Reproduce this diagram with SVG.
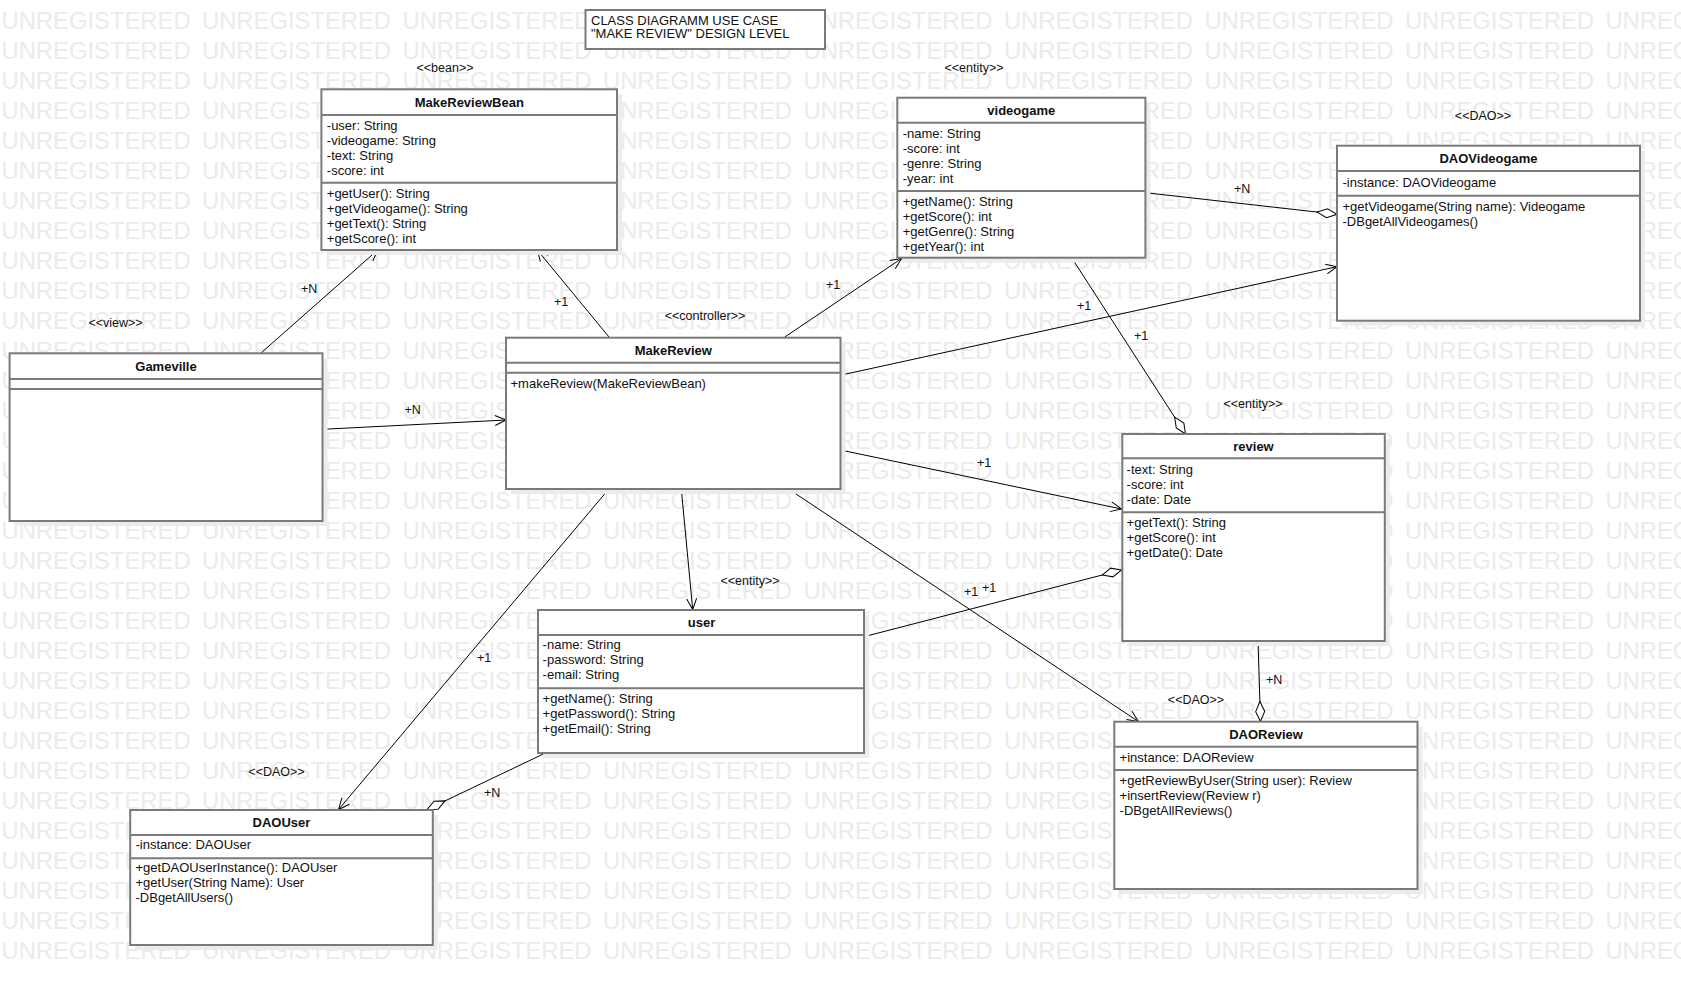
<svg xmlns="http://www.w3.org/2000/svg" width="1681" height="985" viewBox="0 0 1681 985">
<style>
.wm{font-family:"Liberation Sans",Arial,sans-serif;font-size:23.8px;word-spacing:4.8px;fill:#ebebeb}
.box{fill:#fff;stroke:#7a7a7a;stroke-width:2}
.sh{fill:#ececec}
.sep{stroke:#7a7a7a;stroke-width:2}
.t{font-family:"Liberation Sans",Arial,sans-serif;font-size:13px;fill:#111}
.b{font-family:"Liberation Sans",Arial,sans-serif;font-size:13px;font-weight:bold;fill:#111;text-anchor:middle}
.st{font-family:"Liberation Sans",Arial,sans-serif;font-size:12.5px;fill:#111;text-anchor:middle}
.lb{font-family:"Liberation Sans",Arial,sans-serif;font-size:12.5px;fill:#111}
.ln{fill:none;stroke:#000;stroke-width:1}
.ar{marker-end:url(#arr)}
.ag{marker-end:url(#dia)}
</style>
<defs>
<marker id="arr" markerWidth="14" markerHeight="12" refX="12" refY="6" orient="auto" markerUnits="userSpaceOnUse"><path d="M1,1 L12,6 L1,11" fill="none" stroke="#000" stroke-width="1"/></marker>
<marker id="dia" markerWidth="23" markerHeight="12" refX="21" refY="6" orient="auto" markerUnits="userSpaceOnUse"><path d="M1,6 L11,1.5 L21,6 L11,10.5 Z" fill="#fff" stroke="#000" stroke-width="1"/></marker>
</defs>
<rect width="1681" height="985" fill="#fff"/>
<g id="watermark" class="wm">
<text x="1.5" y="28.5">UNREGISTERED UNREGISTERED UNREGISTERED UNREGISTERED UNREGISTERED UNREGISTERED UNREGISTERED UNREGISTERED UNREGISTERED</text>
<text x="1.5" y="58.5">UNREGISTERED UNREGISTERED UNREGISTERED UNREGISTERED UNREGISTERED UNREGISTERED UNREGISTERED UNREGISTERED UNREGISTERED</text>
<text x="1.5" y="88.5">UNREGISTERED UNREGISTERED UNREGISTERED UNREGISTERED UNREGISTERED UNREGISTERED UNREGISTERED UNREGISTERED UNREGISTERED</text>
<text x="1.5" y="118.5">UNREGISTERED UNREGISTERED UNREGISTERED UNREGISTERED UNREGISTERED UNREGISTERED UNREGISTERED UNREGISTERED UNREGISTERED</text>
<text x="1.5" y="148.5">UNREGISTERED UNREGISTERED UNREGISTERED UNREGISTERED UNREGISTERED UNREGISTERED UNREGISTERED UNREGISTERED UNREGISTERED</text>
<text x="1.5" y="178.5">UNREGISTERED UNREGISTERED UNREGISTERED UNREGISTERED UNREGISTERED UNREGISTERED UNREGISTERED UNREGISTERED UNREGISTERED</text>
<text x="1.5" y="208.5">UNREGISTERED UNREGISTERED UNREGISTERED UNREGISTERED UNREGISTERED UNREGISTERED UNREGISTERED UNREGISTERED UNREGISTERED</text>
<text x="1.5" y="238.5">UNREGISTERED UNREGISTERED UNREGISTERED UNREGISTERED UNREGISTERED UNREGISTERED UNREGISTERED UNREGISTERED UNREGISTERED</text>
<text x="1.5" y="268.5">UNREGISTERED UNREGISTERED UNREGISTERED UNREGISTERED UNREGISTERED UNREGISTERED UNREGISTERED UNREGISTERED UNREGISTERED</text>
<text x="1.5" y="298.5">UNREGISTERED UNREGISTERED UNREGISTERED UNREGISTERED UNREGISTERED UNREGISTERED UNREGISTERED UNREGISTERED UNREGISTERED</text>
<text x="1.5" y="328.5">UNREGISTERED UNREGISTERED UNREGISTERED UNREGISTERED UNREGISTERED UNREGISTERED UNREGISTERED UNREGISTERED UNREGISTERED</text>
<text x="1.5" y="358.5">UNREGISTERED UNREGISTERED UNREGISTERED UNREGISTERED UNREGISTERED UNREGISTERED UNREGISTERED UNREGISTERED UNREGISTERED</text>
<text x="1.5" y="388.5">UNREGISTERED UNREGISTERED UNREGISTERED UNREGISTERED UNREGISTERED UNREGISTERED UNREGISTERED UNREGISTERED UNREGISTERED</text>
<text x="1.5" y="418.5">UNREGISTERED UNREGISTERED UNREGISTERED UNREGISTERED UNREGISTERED UNREGISTERED UNREGISTERED UNREGISTERED UNREGISTERED</text>
<text x="1.5" y="448.5">UNREGISTERED UNREGISTERED UNREGISTERED UNREGISTERED UNREGISTERED UNREGISTERED UNREGISTERED UNREGISTERED UNREGISTERED</text>
<text x="1.5" y="478.5">UNREGISTERED UNREGISTERED UNREGISTERED UNREGISTERED UNREGISTERED UNREGISTERED UNREGISTERED UNREGISTERED UNREGISTERED</text>
<text x="1.5" y="508.5">UNREGISTERED UNREGISTERED UNREGISTERED UNREGISTERED UNREGISTERED UNREGISTERED UNREGISTERED UNREGISTERED UNREGISTERED</text>
<text x="1.5" y="538.5">UNREGISTERED UNREGISTERED UNREGISTERED UNREGISTERED UNREGISTERED UNREGISTERED UNREGISTERED UNREGISTERED UNREGISTERED</text>
<text x="1.5" y="568.5">UNREGISTERED UNREGISTERED UNREGISTERED UNREGISTERED UNREGISTERED UNREGISTERED UNREGISTERED UNREGISTERED UNREGISTERED</text>
<text x="1.5" y="598.5">UNREGISTERED UNREGISTERED UNREGISTERED UNREGISTERED UNREGISTERED UNREGISTERED UNREGISTERED UNREGISTERED UNREGISTERED</text>
<text x="1.5" y="628.5">UNREGISTERED UNREGISTERED UNREGISTERED UNREGISTERED UNREGISTERED UNREGISTERED UNREGISTERED UNREGISTERED UNREGISTERED</text>
<text x="1.5" y="658.5">UNREGISTERED UNREGISTERED UNREGISTERED UNREGISTERED UNREGISTERED UNREGISTERED UNREGISTERED UNREGISTERED UNREGISTERED</text>
<text x="1.5" y="688.5">UNREGISTERED UNREGISTERED UNREGISTERED UNREGISTERED UNREGISTERED UNREGISTERED UNREGISTERED UNREGISTERED UNREGISTERED</text>
<text x="1.5" y="718.5">UNREGISTERED UNREGISTERED UNREGISTERED UNREGISTERED UNREGISTERED UNREGISTERED UNREGISTERED UNREGISTERED UNREGISTERED</text>
<text x="1.5" y="748.5">UNREGISTERED UNREGISTERED UNREGISTERED UNREGISTERED UNREGISTERED UNREGISTERED UNREGISTERED UNREGISTERED UNREGISTERED</text>
<text x="1.5" y="778.5">UNREGISTERED UNREGISTERED UNREGISTERED UNREGISTERED UNREGISTERED UNREGISTERED UNREGISTERED UNREGISTERED UNREGISTERED</text>
<text x="1.5" y="808.5">UNREGISTERED UNREGISTERED UNREGISTERED UNREGISTERED UNREGISTERED UNREGISTERED UNREGISTERED UNREGISTERED UNREGISTERED</text>
<text x="1.5" y="838.5">UNREGISTERED UNREGISTERED UNREGISTERED UNREGISTERED UNREGISTERED UNREGISTERED UNREGISTERED UNREGISTERED UNREGISTERED</text>
<text x="1.5" y="868.5">UNREGISTERED UNREGISTERED UNREGISTERED UNREGISTERED UNREGISTERED UNREGISTERED UNREGISTERED UNREGISTERED UNREGISTERED</text>
<text x="1.5" y="898.5">UNREGISTERED UNREGISTERED UNREGISTERED UNREGISTERED UNREGISTERED UNREGISTERED UNREGISTERED UNREGISTERED UNREGISTERED</text>
<text x="1.5" y="928.5">UNREGISTERED UNREGISTERED UNREGISTERED UNREGISTERED UNREGISTERED UNREGISTERED UNREGISTERED UNREGISTERED UNREGISTERED</text>
<text x="1.5" y="958.5">UNREGISTERED UNREGISTERED UNREGISTERED UNREGISTERED UNREGISTERED UNREGISTERED UNREGISTERED UNREGISTERED UNREGISTERED</text>
</g>

<g id="connectors">
<path class="ln ar" d="M261,353 L377.7,250"/>
<path class="ln ar" d="M609,337 L537.3,250"/>
<path class="ln ar" d="M322.5,429.3 L506,420"/>
<path class="ln ar" d="M784.8,337 L901.6,258.5"/>
<path class="ln ar" d="M840.5,375.2 L1337,266.7"/>
<path class="ln ag" d="M1145.4,192.7 L1337,214.3"/>
<path class="ln ag" d="M1072,258.3 L1185.5,434"/>
<path class="ln ar" d="M840.5,450 L1121.5,509"/>
<path class="ln ag" d="M864,636.7 L1121.5,570"/>
<path class="ln ar" d="M790,490 L1138.4,721.5"/>
<path class="ln ag" d="M1258,641 L1260.5,721.5"/>
<path class="ln ar" d="M681.4,490 L692.7,609.5"/>
<path class="ln ar" d="M608,490 L338.6,809.5"/>
<path class="ln ag" d="M544.8,753.3 L427,809.5"/>
<text class="lb" x="301" y="293">+N</text>
<text class="lb" x="554" y="306">+1</text>
<text class="lb" x="404.5" y="414">+N</text>
<text class="lb" x="826" y="289">+1</text>
<text class="lb" x="1077" y="310">+1</text>
<text class="lb" x="1234" y="193">+N</text>
<text class="lb" x="1134" y="340">+1</text>
<text class="lb" x="977" y="467">+1</text>
<text class="lb" x="964" y="596">+1</text>
<text class="lb" x="982" y="592">+1</text>
<text class="lb" x="1266" y="684">+N</text>
<text class="lb" x="477" y="662">+1</text>
<text class="lb" x="484" y="797">+N</text>
</g>

<g id="title">
<rect class="box" x="585.5" y="10" width="239.5" height="39"/>
<text class="t" x="591" y="25">CLASS DIAGRAMM USE CASE</text>
<text class="t" x="591" y="37.7">"MAKE REVIEW" DESIGN LEVEL</text>
</g>

<g id="MakeReviewBean">
<text class="st" x="445" y="72">&lt;&lt;bean&gt;&gt;</text>
<rect class="sh" x="326.4" y="94.3" width="295.6" height="160.7"/>
<rect class="box" x="321.4" y="89.3" width="295.6" height="160.7"/>
<line class="sep" x1="321.4" y1="115" x2="617" y2="115"/>
<line class="sep" x1="321.4" y1="182.7" x2="617" y2="182.7"/>
<text class="b" x="469.3" y="106.5">MakeReviewBean</text>
<text class="t" x="326.8" y="130">-user: String</text>
<text class="t" x="326.8" y="145">-videogame: String</text>
<text class="t" x="326.8" y="160">-text: String</text>
<text class="t" x="326.8" y="175">-score: int</text>
<text class="t" x="326.8" y="198.3">+getUser(): String</text>
<text class="t" x="326.8" y="213.3">+getVideogame(): String</text>
<text class="t" x="326.8" y="228.3">+getText(): String</text>
<text class="t" x="326.8" y="243.3">+getScore(): int</text>
</g>

<g id="Gameville">
<text class="st" x="115.5" y="327">&lt;&lt;view&gt;&gt;</text>
<rect class="sh" x="14.6" y="358.3" width="312.9" height="167.7"/>
<rect class="box" x="9.6" y="353.3" width="312.9" height="167.7"/>
<line class="sep" x1="9.6" y1="379" x2="322.5" y2="379"/>
<line class="sep" x1="9.6" y1="389" x2="322.5" y2="389"/>
<text class="b" x="166" y="370.5">Gameville</text>
</g>

<g id="MakeReview">
<text class="st" x="705" y="320">&lt;&lt;controller&gt;&gt;</text>
<rect class="sh" x="511" y="342.7" width="334.5" height="151.3"/>
<rect class="box" x="506" y="337.7" width="334.5" height="151.3"/>
<line class="sep" x1="506" y1="362.7" x2="840.5" y2="362.7"/>
<line class="sep" x1="506" y1="372.7" x2="840.5" y2="372.7"/>
<text class="b" x="673.3" y="355">MakeReview</text>
<text class="t" x="510.5" y="387.7">+makeReview(MakeReviewBean)</text>
</g>

<g id="videogame">
<text class="st" x="974" y="72">&lt;&lt;entity&gt;&gt;</text>
<rect class="sh" x="902.3" y="102.7" width="248.1" height="160"/>
<rect class="box" x="897.3" y="97.7" width="248.1" height="160"/>
<line class="sep" x1="897.3" y1="122.7" x2="1145.4" y2="122.7"/>
<line class="sep" x1="897.3" y1="191" x2="1145.4" y2="191"/>
<text class="b" x="1021.3" y="114.5">videogame</text>
<text class="t" x="902.7" y="137.7">-name: String</text>
<text class="t" x="902.7" y="152.7">-score: int</text>
<text class="t" x="902.7" y="167.7">-genre: String</text>
<text class="t" x="902.7" y="182.7">-year: int</text>
<text class="t" x="902.7" y="205.7">+getName(): String</text>
<text class="t" x="902.7" y="220.7">+getScore(): int</text>
<text class="t" x="902.7" y="235.7">+getGenre(): String</text>
<text class="t" x="902.7" y="250.7">+getYear(): int</text>
</g>

<g id="DAOVideogame">
<text class="st" x="1483" y="120">&lt;&lt;DAO&gt;&gt;</text>
<rect class="sh" x="1342" y="150.7" width="303" height="175"/>
<rect class="box" x="1337" y="145.7" width="303" height="175"/>
<line class="sep" x1="1337" y1="171" x2="1640" y2="171"/>
<line class="sep" x1="1337" y1="195.7" x2="1640" y2="195.7"/>
<text class="b" x="1488.5" y="162.7">DAOVideogame</text>
<text class="t" x="1342.5" y="187.3">-instance: DAOVideogame</text>
<text class="t" x="1342.5" y="210.7">+getVideogame(String name): Videogame</text>
<text class="t" x="1342.5" y="225.7">-DBgetAllVideogames()</text>
</g>

<g id="review">
<text class="st" x="1253" y="408">&lt;&lt;entity&gt;&gt;</text>
<rect class="sh" x="1127.3" y="439" width="262.5" height="207"/>
<rect class="box" x="1122.3" y="434" width="262.5" height="207"/>
<line class="sep" x1="1122.3" y1="458.3" x2="1384.8" y2="458.3"/>
<line class="sep" x1="1122.3" y1="512.3" x2="1384.8" y2="512.3"/>
<text class="b" x="1253.5" y="450.7">review</text>
<text class="t" x="1126.6" y="474">-text: String</text>
<text class="t" x="1126.6" y="489">-score: int</text>
<text class="t" x="1126.6" y="504">-date: Date</text>
<text class="t" x="1126.6" y="526.7">+getText(): String</text>
<text class="t" x="1126.6" y="541.7">+getScore(): int</text>
<text class="t" x="1126.6" y="556.7">+getDate(): Date</text>
</g>

<g id="user">
<text class="st" x="750" y="585">&lt;&lt;entity&gt;&gt;</text>
<rect class="sh" x="543" y="615" width="326" height="143"/>
<rect class="box" x="538" y="610" width="326" height="143"/>
<line class="sep" x1="538" y1="635" x2="864" y2="635"/>
<line class="sep" x1="538" y1="688.3" x2="864" y2="688.3"/>
<text class="b" x="701.5" y="626.7">user</text>
<text class="t" x="542.6" y="649.3">-name: String</text>
<text class="t" x="542.6" y="664.3">-password: String</text>
<text class="t" x="542.6" y="679.3">-email: String</text>
<text class="t" x="542.6" y="702.7">+getName(): String</text>
<text class="t" x="542.6" y="717.7">+getPassword(): String</text>
<text class="t" x="542.6" y="732.7">+getEmail(): String</text>
</g>

<g id="DAOUser">
<text class="st" x="276.5" y="776">&lt;&lt;DAO&gt;&gt;</text>
<rect class="sh" x="135.2" y="815" width="302.6" height="135"/>
<rect class="box" x="130.2" y="810" width="302.6" height="135"/>
<line class="sep" x1="130.2" y1="835" x2="432.8" y2="835"/>
<line class="sep" x1="130.2" y1="858.3" x2="432.8" y2="858.3"/>
<text class="b" x="281.5" y="826.7">DAOUser</text>
<text class="t" x="135.5" y="849.3">-instance: DAOUser</text>
<text class="t" x="135.5" y="872.3">+getDAOUserInstance(): DAOUser</text>
<text class="t" x="135.5" y="887.3">+getUser(String Name): User</text>
<text class="t" x="135.5" y="902.3">-DBgetAllUsers()</text>
</g>

<g id="DAOReview">
<text class="st" x="1196" y="704">&lt;&lt;DAO&gt;&gt;</text>
<rect class="sh" x="1119.3" y="726.7" width="303.2" height="167.3"/>
<rect class="box" x="1114.3" y="721.7" width="303.2" height="167.3"/>
<line class="sep" x1="1114.3" y1="746.7" x2="1417.5" y2="746.7"/>
<line class="sep" x1="1114.3" y1="770" x2="1417.5" y2="770"/>
<text class="b" x="1266" y="739">DAOReview</text>
<text class="t" x="1119.6" y="761.7">+instance: DAOReview</text>
<text class="t" x="1119.6" y="785">+getReviewByUser(String user): Review</text>
<text class="t" x="1119.6" y="800">+insertReview(Review r)</text>
<text class="t" x="1119.6" y="815">-DBgetAllReviews()</text>
</g>
</svg>
